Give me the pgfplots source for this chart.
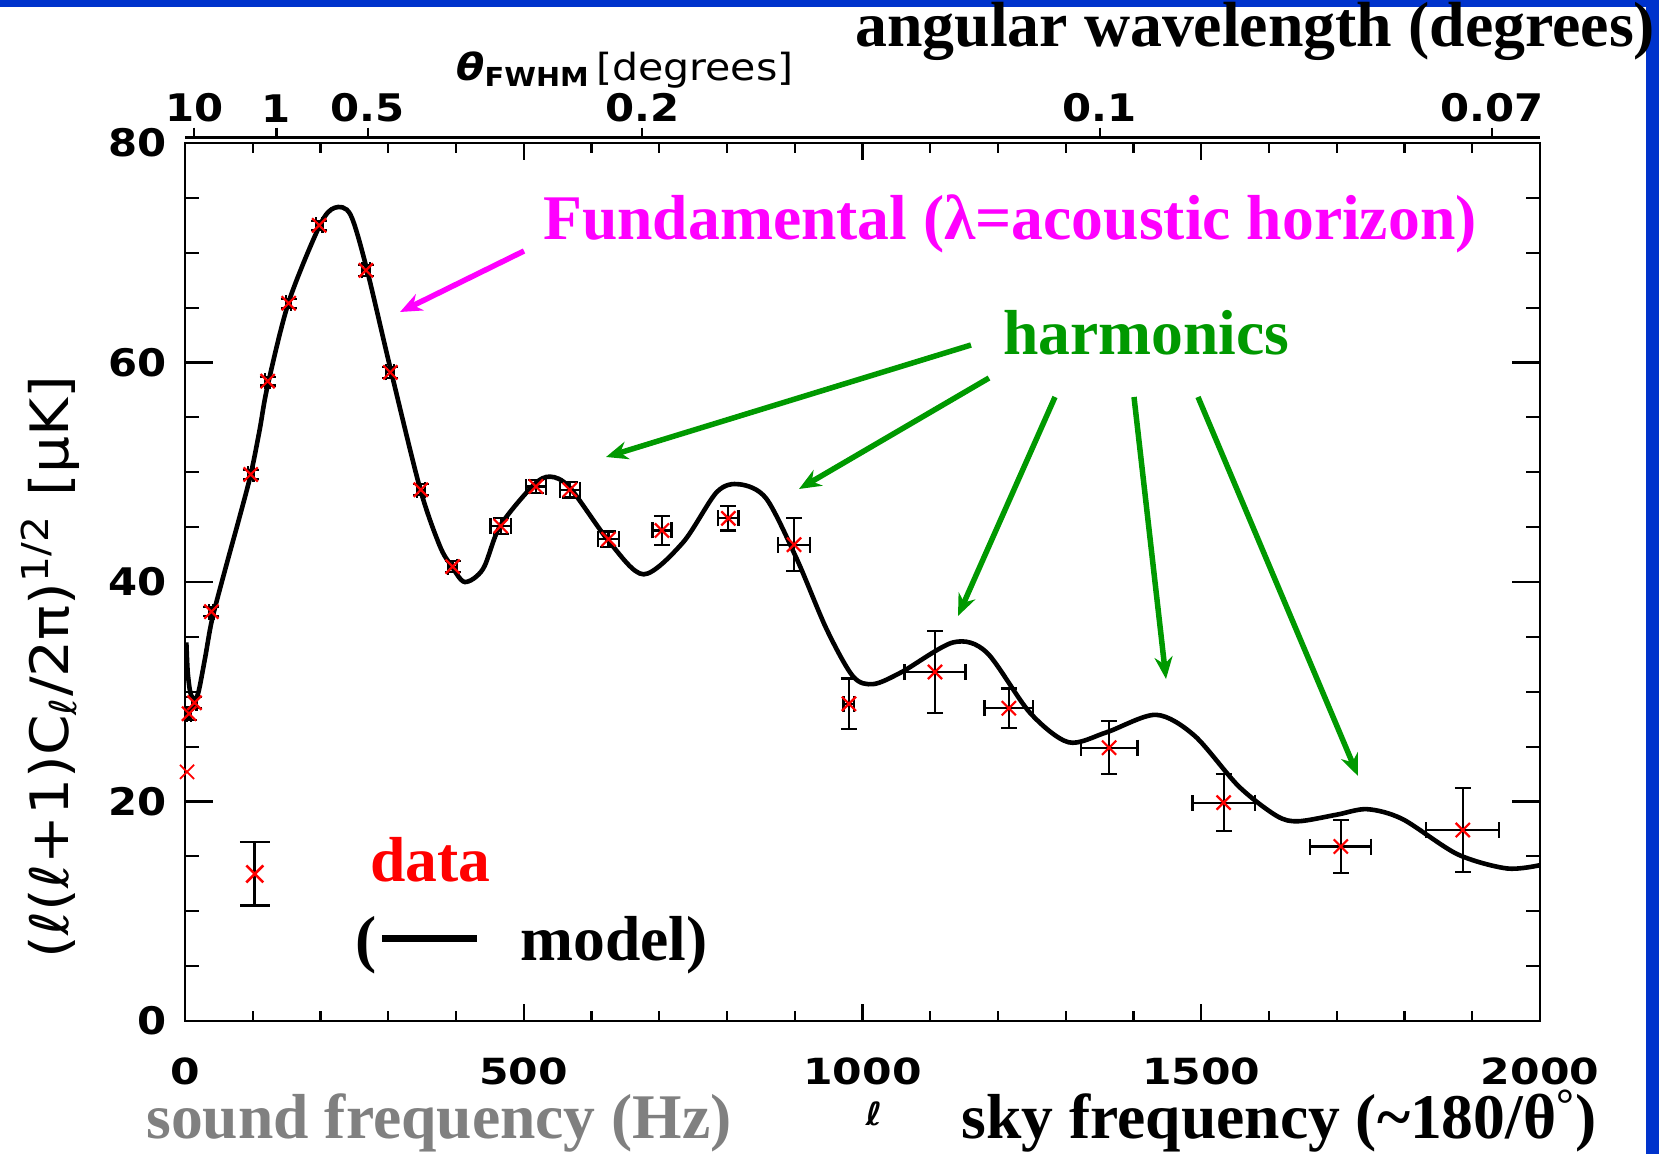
\documentclass[border=0pt]{standalone}
\usepackage{pgfplots}
\pgfplotsset{compat=1.18}
\usepackage{pgfplotstable}
\usepackage{fontspec}
\setmainfont{Liberation Serif}
\newfontfamily\idlX[FakeStretch=1.18]{DejaVu Sans}
\newfontfamily\idlY[FakeStretch=1.1]{DejaVu Sans}
\newfontfamily\idlT[FakeStretch=1.1]{DejaVu Sans}
\usetikzlibrary{arrows.meta}
\definecolor{bgblue}{RGB}{0,51,204}
\definecolor{mag}{RGB}{255,0,255}
\definecolor{grn}{RGB}{0,153,0}
\definecolor{gry}{RGB}{128,128,128}
\newcommand\fx{\idlX\bfseries\fontsize{18pt}{20pt}\selectfont}
\newcommand\fy{\idlY\bfseries\fontsize{19pt}{21pt}\selectfont}
\newcommand\ftop{\idlT\bfseries\fontsize{19pt}{21pt}\selectfont}
\newcommand\ft{\idlT\fontsize{17pt}{19pt}\selectfont}
\newcommand\ann{\bfseries\fontsize{31.8pt}{34pt}\selectfont}

\pgfplotstableread{
l T dl dT
6 28.0 3 0.6
14 29.0 3 0.5
39 37.3 3 0.4
97 49.8 4 0.4
122 58.3 4 0.4
153 65.4 4 0.4
198 72.5 5 0.4
267 68.4 6 0.5
303 59.1 6 0.5
348 48.4 6 0.5
395 41.4 7 0.5
466 45.1 15 0.7
518 48.7 15 0.6
568 48.4 15 0.7
625 43.9 15 0.7
704 44.7 14 1.3
802 45.8 15 1.1
899 43.4 24 2.4
980 28.9 8 2.3
1107 31.8 45 3.7
1216 28.5 36 1.8
1364 24.9 42 2.4
1533 19.9 46 2.6
1706 15.9 45 2.4
1886 17.4 54 3.8
}\wmapdata

\pgfplotstableread{
l T
2 34.5
4 31.8
8 29.9
14 29.3
20 30.0
30 33.2
40 36.6
60 41.3
80 45.8
97 49.8
110 53.8
122 57.9
153 65.5
199 72.5
221 74.1
244 73.5
268 68.6
303 59.5
347 48.5
376 43.3
393 41.5
413 40.0
440 41.2
465 45.1
514 48.8
539 49.6
568 48.6
627 43.6
677 40.7
735 43.6
785 48.2
819 48.9
858 47.6
903 42.1
947 35.7
986 31.4
1016 30.7
1058 31.8
1134 34.5
1183 33.6
1247 28.1
1304 25.4
1360 26.3
1433 27.9
1490 26.0
1555 21.4
1611 18.7
1643 18.2
1700 18.8
1745 19.3
1797 18.4
1878 15.2
1951 13.9
2000 14.2
}\modeldata

\begin{document}
\begin{tikzpicture}
\begin{scope}[x=0.5pt,y=-0.5pt]
\fill[white] (0,0) rectangle (1659,1154);
\fill[bgblue] (0,0) rectangle (1659,7);
\fill[bgblue] (1646,0) rectangle (1659,1154);
\end{scope}

% top (theta) axis
\begin{axis}[at={(92.5pt,-507.75pt)}, anchor=south west, scale only axis,
  width=677.5pt, height=439pt, xmin=0, xmax=2000, ymin=0, ymax=80,
  axis x line*=top, hide y axis, axis line style={-, line width=1.2pt},
  xtick={13.5,135,270,675,1350,1929}, xticklabels={10,1,0.5,0.2,0.1,0.07},
  tick align=outside, major tick length=5pt, tick style={black, line width=1.1pt},
  xticklabel style={font=\ftop, inner sep=1pt, yshift=1.5pt},
  /pgf/number format/assume math mode=true]
\addplot[draw=none] coordinates {(0,0)};
\end{axis}

% main axis
\begin{axis}[at={(92.5pt,-510.5pt)}, anchor=south west, scale only axis,
  width=677.5pt, height=439pt, xmin=0, xmax=2000, ymin=0, ymax=80,
  xtick={0,500,1000,1500,2000}, xticklabels={0,500,1000,1500,2000},
  minor x tick num=4,
  ytick={0,20,40,60,80}, yticklabels={0,20,40,60,80},
  minor y tick num=3,
  tick align=inside, axis line style={line width=1.2pt},
  tick style={black, line width=1.1pt},
  major tick length=14pt, minor tick length=7pt,
  xtick style={/pgfplots/major tick length=8.5pt, /pgfplots/minor tick length=5pt},
  xticklabel style={font=\fx, anchor=center, inner sep=0pt, yshift=-25pt},
  yticklabel style={font=\fy, anchor=east, inner sep=0pt, xshift=-9pt},
  /pgf/number format/assume math mode=true]
\addplot[black, line width=2.3pt, smooth] table[x=l, y=T] {\modeldata};
\addplot[only marks, mark=x, red, mark size=5pt, line width=0.9pt] coordinates {(3,22.7)};
\addplot[only marks, mark=x, red, mark size=5pt, mark options={line width=1.1pt},
  error bars/.cd, x dir=both, x explicit, y dir=both, y explicit,
  error bar style={black, line width=1.1pt},
  error mark options={rotate=90, black, mark size=4pt, line width=1.1pt}]
  table[x=l, y=T, x error=dl, y error=dT] {\wmapdata};
% legend sample
\addplot[only marks, mark=x, red, mark size=6pt, mark options={line width=1.3pt},
  error bars/.cd, y dir=both, y explicit,
  error bar style={black, line width=1.3pt},
  error mark options={rotate=90, black, mark size=7.5pt, line width=1.3pt}]
  coordinates {(103,13.4) +- (0,2.9)};
\end{axis}

\begin{scope}[x=0.5pt,y=-0.5pt]
% y label
\node[rotate=90] at (50,667) {\resizebox{291pt}{!}{\ft (ℓ(ℓ+1)C\textsubscript{ℓ}/2π)\textsuperscript{1/2} [μK]}};
% top title
\node at (625,70) {\resizebox{168.5pt}{!}{\ft {\bfseries\itshape θ}\textsubscript{\bfseries FWHM}\,[degrees]}};
% ell
\node at (874,1114) {\idlT\bfseries\itshape\fontsize{16pt}{18pt}\selectfont ℓ};
% annotations
\node[anchor=base west, inner sep=0, font=\ann] at (855,47) {\fontsize{31.9pt}{34pt}\selectfont angular wavelength (degrees)};
\node[anchor=base west, inner sep=0, font=\ann, text=mag] at (543,240) {Fundamental (λ=acoustic horizon)};
\node[anchor=base west, inner sep=0, font=\ann, text=grn] at (1003,355) {harmonics};
\node[anchor=base west, inner sep=0, font=\ann, text=red] at (370,881) {data};
\node[anchor=base west, inner sep=0, font=\ann] at (355,960) {(};
\draw[line width=3.5pt] (382,938) -- (477,938);
\node[anchor=base west, inner sep=0, font=\ann] at (520,960) {model)};
\node[anchor=base west, inner sep=0, font=\ann, text=gry] at (146,1138) {sound frequency (Hz)};
\node[anchor=base west, inner sep=0, font=\ann] at (961,1138) {sky frequency (\textasciitilde180/θ\textsuperscript{°})};
% arrows
\draw[mag, line width=2.75pt, -{Stealth[length=11pt, width=9pt]}] (524,251) -- (400,312);
\begin{scope}[grn, line width=2.75pt, -{Stealth[length=11pt, width=9pt]}]
\draw (971,345) -- (606,457);
\draw (989,378) -- (799,489);
\draw (1055,397) -- (958,616);
\draw (1134,397) -- (1166,679);
\draw (1198,397) -- (1358,776);
\end{scope}
\pgfresetboundingbox
\path[use as bounding box] (0,0) rectangle (1659,1154);
\end{scope}
\end{tikzpicture}
\end{document}
